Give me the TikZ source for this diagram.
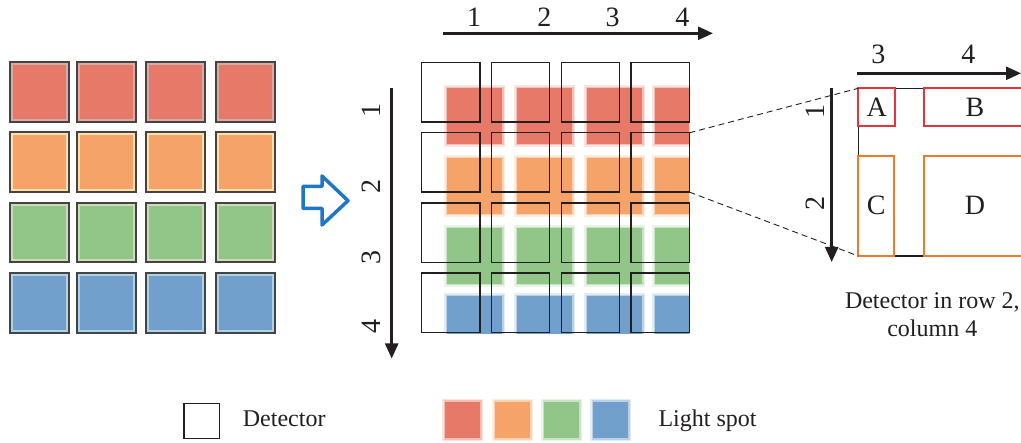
\documentclass[tikz,border=0pt]{standalone}
\usepackage{fontspec}
\setmainfont{Liberation Serif}
\usetikzlibrary{arrows.meta}

\definecolor{ink}{HTML}{231F20}
\definecolor{frame}{HTML}{444444}
\definecolor{spotred}{HTML}{E67968}
\definecolor{spotorange}{HTML}{F5A368}
\definecolor{spotgreen}{HTML}{92C689}
\definecolor{spotblue}{HTML}{70A0CB}
\definecolor{palered}{HTML}{D9ABA4}
\definecolor{paleorange}{HTML}{FFDFAA}
\definecolor{palegreen}{HTML}{CFDABA}
\definecolor{paleblue}{HTML}{B0D2E2}
\definecolor{zonered}{HTML}{E8333C}
\definecolor{zoneorange}{HTML}{EE7B2A}
\definecolor{hintblue}{HTML}{1E77C6}

\tikzset{
  det/.style={draw=ink, line width=1.3pt, minimum width=58.3pt, minimum height=59.3pt,
    inner sep=0pt, outer sep=0pt, anchor=north west},
  cellsq/.style={draw=frame, line width=2pt, minimum width=59.3pt, minimum height=59.5pt,
    inner sep=0pt, outer sep=0pt, anchor=north west},
  axis/.style={ink, line width=2.5pt, -{Triangle[length=15pt,width=13pt]}},
  num/.style={font=\fontsize{28}{30}\selectfont, text=ink, inner sep=0pt},
  caption/.style={font=\fontsize{24}{28}\selectfont, text=ink, inner sep=0pt},
  zone/.style={line width=1.9pt, inner sep=0pt, outer sep=0pt, anchor=north west,
    font=\fontsize{28}{30}\selectfont, text=ink},
  link/.style={ink, line width=0.9pt, dash pattern=on 6pt off 4pt},
}

% a coloured light spot with a soft edge
\newcommand\lightspot[5]{%
  \fill[#1] (#2,#3) rectangle ++(#4,#5);
  \draw[#1, opacity=0.2, line width=6pt] (#2,#3) rectangle ++(#4,#5);
  \draw[#1, opacity=0.35, line width=3pt] (#2,#3) rectangle ++(#4,#5);
}

\begin{document}
\begin{tikzpicture}[x=1pt, y=-1pt]
\clip (0,0) rectangle (1021,443);
\fill[white] (0,0) rectangle (1021,443);

% ---- source array of coloured cells ----
\foreach \r/\y/\col/\pale in {1/62.5/spotred/palered, 2/132.3/spotorange/paleorange,
                                3/202.7/spotgreen/palegreen, 4/273.5/spotblue/paleblue}{
  \foreach \c/\x in {1/9.5, 2/76.7, 3/146, 4/216}{
    \node[cellsq, fill=\pale] (L-\r-\c) at (\x,\y) {};
    \fill[\col] ([shift={(3,3)}]L-\r-\c.north west) rectangle ([shift={(-3,-3)}]L-\r-\c.south east);
  }
}

% ---- block arrow ----
\draw[hintblue, line width=3.5pt, line join=round]
  (303,186.5) -- (322,186.5) -- (322,176) -- (348,200.7) -- (322,225) -- (322,208.5)
  -- (303,208.5) -- cycle;

% ---- light spots over the detector array ----
\begin{scope}
  \clip (421.7,62.7) rectangle (689.3,334);
  \foreach \r/\y/\col in {1/88.3/spotred, 2/158.3/spotorange, 3/228.3/spotgreen, 4/296.5/spotblue}{
    \foreach \x in {447, 517, 587, 655}{
      \lightspot{\col}{\x}{\y}{55}{55.5}
    }
  }
\end{scope}

% ---- detector array ----
\foreach \r in {1,...,4}{
  \foreach \c in {1,...,4}{
    \node[det] (d-\r-\c) at ({421.7+69.8*(\c-1)}, {62.7+70.1*(\r-1)}) {};
  }
}

% ---- column / row axes ----
\coordinate (cx0) at (443.3,33.3);
\coordinate (cx1) at (713,33.3);
\draw[axis] (cx0) -- (cx1);
\foreach \i/\x in {1/474, 2/544.3, 3/612.7, 4/682.3}{
  \node[num, anchor=base] (col-\i) at (\x,26.7) {\i};
}
\coordinate (ry0) at (391.7,88.3);
\coordinate (ry1) at (391.7,358.5);
\draw[axis] (ry0) -- (ry1);
\foreach \i/\y in {1/111, 2/187, 3/258, 4/327}{
  \node[num, rotate=90] (row-\i) at (371,\y) {\i};
}

% ---- magnified detector (row 2, column 4) ----
\coordinate (mag-nw) at (858.3,88.3);
\coordinate (mag-sw) at (858.3,256);
\coordinate (mag-se) at (1030,256);
\draw[ink, line width=1.3pt] (mag-nw) rectangle (mag-se);
\node[zone, draw=zonered, minimum width=36.7pt, minimum height=37.4pt] (A) at (858.3,88.3) {A};
\node[zone, draw=zonered, minimum width=101.4pt, minimum height=37.4pt] (B) at (924.3,88.3) {B};
\node[zone, draw=zoneorange, minimum width=35.7pt, minimum height=100.3pt] (C) at (858.3,155.7) {C};
\node[zone, draw=zoneorange, minimum width=101.4pt, minimum height=100.3pt] (D) at (924.3,155.7) {D};

\draw[link] (d-2-4.north east) -- (mag-nw);
\draw[link] (d-2-4.south east) -- (mag-sw);

\coordinate (mx0) at (857.3,73.3);
\coordinate (mx1) at (1021,73.3);
\draw[axis] (mx0) -- (mx1);
\node[num, anchor=base] (mcol-3) at (878.3,63.3) {3};
\node[num, anchor=base] (mcol-4) at (968.3,63.3) {4};
\coordinate (my0) at (831.7,88.3);
\coordinate (my1) at (831.7,262);
\draw[axis] (my0) -- (my1);
\node[num, rotate=90] (mrow-1) at (815,111.7) {1};
\node[num, rotate=90] (mrow-2) at (815,203.3) {2};

\node[caption, anchor=base] (cap1) at (932.3,308.3) {Detector in row 2,};
\node[caption, anchor=base] (cap2) at (932.3,336.7) {column 4};

% ---- legend ----
\node[draw=ink, line width=1.3pt, minimum size=35.5pt, inner sep=0pt, outer sep=0pt,
      anchor=north west] (leg-det) at (184,403.3) {};
\node[caption, anchor=base west] (leg-det-text) at (242.7,426.7) {Detector};
\foreach \x/\col in {445.3/spotred, 495/spotorange, 544/spotgreen, 593.3/spotblue}{
  \lightspot{\col}{\x}{401.7}{35}{36.6}
}
\node[caption, anchor=base west] (leg-spot-text) at (658.3,426.7) {Light spot};
\end{tikzpicture}
\end{document}
